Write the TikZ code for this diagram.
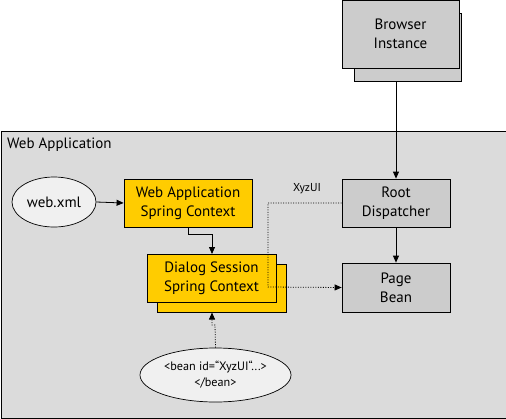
\documentclass[tikz,border=0pt]{standalone}
\usepackage{fontspec}
\setmainfont{PT Sans}
\usetikzlibrary{arrows.meta,positioning,calc,shapes.geometric}

\begin{document}
\begin{tikzpicture}[x=1pt,y=-1pt,
    wabox/.style={draw,line width=0.8pt,align=center,inner sep=0pt,
        font=\fontsize{15}{19}\selectfont},
    graybox/.style={wabox,fill=black!20,minimum width=108pt,minimum height=48pt},
    springbox/.style={wabox,fill={rgb,255:red,255;green,204;blue,0},
        minimum width=129pt,minimum height=48pt},
    docell/.style={wabox,ellipse,fill=black!6,line width=0.7pt},
    waarrow/.style={-{Triangle[length=7pt,width=6pt]},line width=0.8pt},
    wadotted/.style={waarrow,dash pattern=on 1pt off 1.5pt}
]
\useasboundingbox (0,0) rectangle (506,418);
% frame of the web application
\node[draw,line width=0.8pt,fill=black!14,anchor=north west,minimum width=505pt,
    minimum height=287pt,inner sep=0pt] (webapp) at (0.5,131) {};
\node[anchor=north west,font=\fontsize{15}{19}\selectfont,inner sep=0pt]
    (webapptitle) at (7,138) {Web Application};
% browser
\node[graybox,minimum width=107pt,minimum height=68pt] (browserback) at (408,47) {};
\node[graybox,minimum width=117pt,minimum height=68pt] (browser) at (400.5,34) {Browser\\Instance};
% nodes inside
\node[docell,minimum width=84pt,minimum height=50pt] (webxml) at (54,202) {web.xml};
\node[springbox,minimum width=128pt] (appctx) at (188,203) {Web Application\\Spring Context};
\node[graybox] (root) at (396,203) {Root\\Dispatcher};
\node[springbox] (dialogback) at (222,288.5) {};
\node[springbox] (dialog) at (211.5,278) {Dialog Session\\Spring Context};
\node[graybox,minimum height=49pt] (page) at (396,287.5) {Page\\Bean};
\node[docell,minimum width=151pt,minimum height=54pt,font=\fontsize{12.2}{16}\selectfont]
    (beandef) at (215.5,375) {<bean id=“XyzUI“...>\\</bean>};
\node[font=\fontsize{11.5}{14}\selectfont,inner sep=0pt] (xyzlabel) at (307,189) {XyzUI};
% connectors
\draw[waarrow] (browserback.south -| root.north) -- (root.north);
\draw[waarrow] (webxml.east) -- (appctx.west);
\draw[waarrow] (appctx.south) |- (212,234) -- (212,254);
\draw[waarrow] (root.south) -- (page.north);
\draw[wadotted] (root.west) -- (268,203) -- (268,287) -- (page.west);
\draw[wadotted] (beandef.north) -- (215,325) -- (212,325) -- (212,312.5);
\end{tikzpicture}
\end{document}
